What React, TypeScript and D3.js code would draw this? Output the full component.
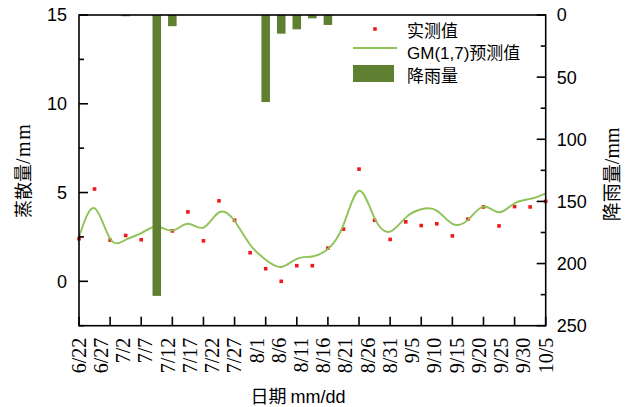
import React, { useEffect } from 'react';
import * as d3 from 'd3';

const dateLabels = ['6/22','6/27','7/2','7/7','7/12','7/17','7/22','7/27','8/1','8/6','8/11','8/16','8/21','8/26','8/31','9/5','9/10','9/15','9/20','9/25','9/30','10/5'];

const measured = [2.4, 5.2, 2.32, 2.58, 2.34, 3.0, 2.84, 3.91, 2.28, 4.53, 3.44, 1.61, 0.71, 0.0, 0.88, 0.88, 1.87, 2.94, 6.32, 3.44, 2.36, 3.35, 3.14, 3.24, 2.56, 3.5, 4.19, 3.12, 4.21, 4.19, 4.5];

const predicted = [2.5, 4.12, 2.4, 2.34, 2.71, 3.09, 2.86, 3.24, 3.03, 3.88, 3.4, 2.06, 1.22, 0.81, 1.27, 1.4, 1.82, 3.18, 5.1, 3.56, 2.8, 3.59, 4.06, 3.98, 3.24, 3.46, 4.21, 3.89, 4.4, 4.64, 4.96];

const rainfall = [0, 0, 0, 1, 0, 226, 9, 0, 0, 0, 0, 0, 70, 15, 11.5, 2.7, 8, 0, 0, 0, 0, 0, 0, 0, 0, 0, 0, 0, 0, 0, 0];

const leftMajor = [0, 5, 10, 15];
const leftMinor = [-2.5, 2.5, 7.5, 12.5];
const rightMajor = [0, 50, 100, 150, 200, 250];
const rightMinor = [25, 75, 125, 175, 225];

const legendItems = ['实测值', 'GM(1,7)预测值', '降雨量'];

const W = 631, H = 407;
const L = 79, R = 545.7, T = 15, B = 325.7;

const BAR_COLOR = '#5f7f31';
const LINE_COLOR = '#8fc257';
const DOT_COLOR = '#f01818';
const SANS = '"Liberation Sans", Arial, sans-serif';
const SERIF = '"Liberation Serif", "Times New Roman", serif';
const CJK = '"Noto Sans CJK SC", sans-serif';

export default function App() {
  useEffect(() => { document.body.style.margin = '0'; }, []);

  const x = d3.scaleLinear().domain([0, measured.length - 1]).range([L, R]);
  const labelX = d3.scaleLinear().domain([0, dateLabels.length - 1]).range([L, R]);
  const yL = d3.scaleLinear().domain([-2.5, 15]).range([B, T]);
  const yR = d3.scaleLinear().domain([0, 250]).range([T, B]);

  const line = d3.line<number>().x((_, i) => x(i)).y(d => yL(d)).curve(d3.curveNatural);
  const step = x(1) - x(0);
  const bw = step * 0.55;
  const xTicks = d3.range(0, measured.length, 2);

  const dot = 3.6;

  return (
    <svg width={W} height={H} style={{ position: 'absolute', left: 0, top: 0, background: '#fff' }}>
      {/* measured points */}
      {measured.map((v, i) => (
        <rect key={'m' + i} x={x(i) - dot / 2} y={yL(v) - dot / 2} width={dot} height={dot} fill={DOT_COLOR} />
      ))}
      {/* predicted line */}
      <path d={line(predicted) || ''} fill="none" stroke={LINE_COLOR} strokeWidth={1.9} />
      {/* rainfall bars */}
      {rainfall.map((r, i) => r > 0 ? (
        <rect key={'b' + i} x={x(i) - bw / 2} y={yR(0)} width={bw} height={yR(r) - yR(0)} fill={BAR_COLOR} />
      ) : null)}

      {/* frame */}
      <rect x={L} y={T} width={R - L} height={B - T} fill="none" stroke="#000" strokeWidth={1.6} />

      {/* left axis ticks */}
      {leftMajor.map(v => (
        <g key={'lM' + v}>
          <line x1={L} x2={L + 9} y1={yL(v)} y2={yL(v)} stroke="#000" strokeWidth={1.6} />
          <text x={L - 12} y={yL(v)} dy="0.36em" textAnchor="end" fontFamily={SANS} fontSize={18}>{v}</text>
        </g>
      ))}
      {leftMinor.map(v => (
        <line key={'lm' + v} x1={L} x2={L + 5} y1={yL(v)} y2={yL(v)} stroke="#000" strokeWidth={1.6} />
      ))}

      {/* right axis ticks */}
      {rightMajor.map(v => (
        <g key={'rM' + v}>
          <line x1={R - 9} x2={R} y1={yR(v)} y2={yR(v)} stroke="#000" strokeWidth={1.6} />
          <text x={R + 11} y={yR(v)} dy="0.36em" textAnchor="start" fontFamily={SANS} fontSize={18}>{v}</text>
        </g>
      ))}
      {rightMinor.map(v => (
        <line key={'rm' + v} x1={R - 5} x2={R} y1={yR(v)} y2={yR(v)} stroke="#000" strokeWidth={1.6} />
      ))}

      {/* bottom ticks */}
      {xTicks.map(i => (
        <line key={'xt' + i} x1={x(i)} x2={x(i)} y1={B} y2={B - 9} stroke="#000" strokeWidth={1.6} />
      ))}
      {dateLabels.map((d, i) => (
        <text key={'xl' + i} transform={`translate(${labelX(i)},${B + 12}) rotate(-90)`} dy="0.34em"
          textAnchor="end" fontFamily={SERIF} fontSize={20}>{d}</text>
      ))}

      {/* axis titles */}
      <text x={298} y={403} textAnchor="middle" fontSize={18}>
        <tspan fontFamily={CJK}>日期 </tspan><tspan fontFamily={SANS}>mm/dd</tspan>
      </text>
      <text transform={`translate(24,${(T + B) / 2}) rotate(-90)`} dy="0.35em" textAnchor="middle" fontSize={18}>
        <tspan fontFamily={CJK}>蒸散量</tspan><tspan fontFamily={SERIF} fontSize={20} letterSpacing={1.5}>/mm</tspan>
      </text>
      <text transform={`translate(612,${(T + B) / 2 + 4}) rotate(-90)`} dy="0.35em" textAnchor="middle" fontSize={19}>
        <tspan fontFamily={CJK}>降雨量</tspan><tspan fontFamily={SERIF} fontSize={20}>/mm</tspan>
      </text>

      {/* legend */}
      <rect x={375 - dot / 2} y={29 - dot / 2} width={dot} height={dot} fill={DOT_COLOR} />
      <line x1={353} x2={397} y1={48} y2={48} stroke={LINE_COLOR} strokeWidth={1.9} />
      <rect x={353} y={65} width={41} height={17} fill={BAR_COLOR} />
      {legendItems.map((t, i) => (
        <text key={'lg' + i} x={407} y={30.8 + i * 22.5} dy="0.35em" fontSize={17}>
          {i === 1 ? (<><tspan fontFamily={SANS}>GM(1,7)</tspan><tspan fontFamily={CJK}>预测值</tspan></>) :
            <tspan fontFamily={CJK}>{t}</tspan>}
        </text>
      ))}
    </svg>
  );
}
